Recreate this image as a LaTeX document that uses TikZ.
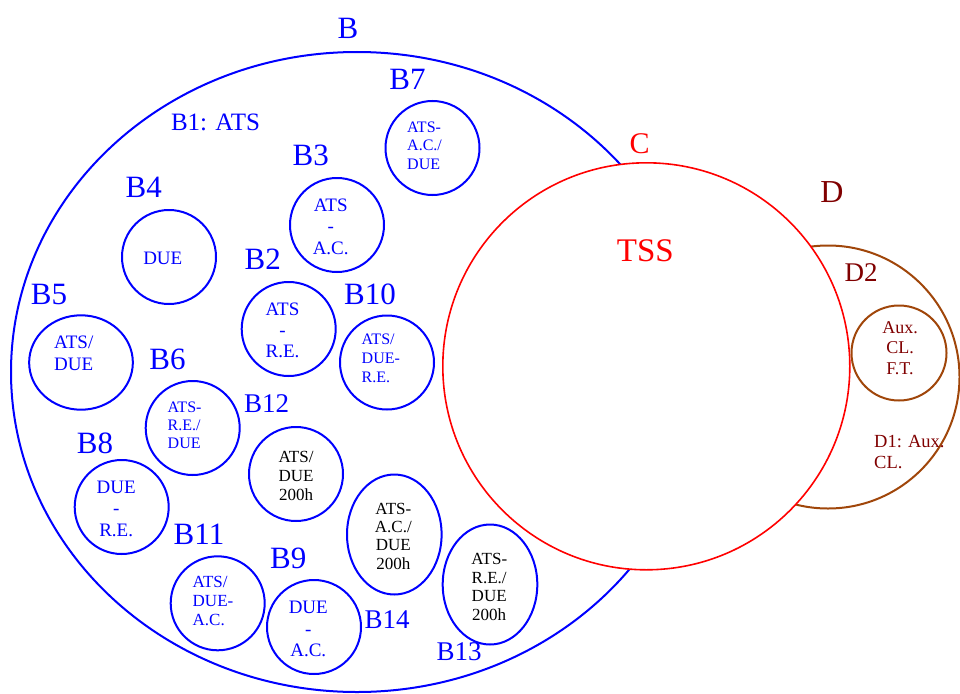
\documentclass[tikz,border=0pt]{standalone}
\usepackage{fontspec}
\setmainfont{Liberation Serif}
\usepackage{tikz}
\usetikzlibrary{shapes.geometric}
\definecolor{rust}{RGB}{160,70,10}
\definecolor{maroon}{RGB}{128,0,0}

\begin{document}
\begin{tikzpicture}[x=1pt,y=-1pt,
			ring/.style={circle,draw=blue,line width=2pt,minimum size=94pt,inner sep=0pt},
			tall ring/.style={ellipse,draw=blue,line width=2pt,minimum width=94.6pt,
				minimum height=120pt,inner sep=0pt},
			tag/.style={anchor=base,inner sep=0pt,text=blue,font=\fontsize{31}{36}\selectfont},
			mid tag/.style={tag,font=\fontsize{27}{32}\selectfont},
			big txt/.style={inner sep=0pt,text=blue,align=center,font=\fontsize{19}{21.3}\selectfont},
			small txt/.style={inner sep=0pt,text=blue,align=left,anchor=west,
				font=\fontsize{16}{18.5}\selectfont},
			black txt/.style={inner sep=0pt,align=center,font=\fontsize{17}{18.4}\selectfont}]
	\useasboundingbox (0,0) rectangle (960,693);
	
	% outer sets
	\node[ellipse,draw=blue,line width=2pt,minimum width=692pt,minimum height=640pt] (B) at (357,372) {};
	\node[circle,draw=rust,line width=2pt,minimum size=263pt] (D) at (828,377) {};
	\node[circle,draw=red,fill=white,line width=1.6pt,minimum size=407pt] (C) at (646.3,366.3) {};
	\node[circle,draw=rust,line width=2pt,minimum size=95pt] (D2) at (899,353) {};
	
	% titles
	\node[tag] (lB) at (348,38) {B};
	\node[tag,font=\fontsize{25}{30}\selectfont] (lB1) at (215.5,130) {B1: ATS};
	\node[tag,text=red,font=\fontsize{30}{36}\selectfont] (lC) at (639.5,153.5) {C};
	\node[tag,text=red,font=\fontsize{33}{38}\selectfont] (lTSS) at (645.3,261) {TSS};
	\node[tag,text=maroon,font=\fontsize{32}{38}\selectfont] (lD) at (832,202) {D};
	\node[mid tag,text=maroon] (lD2) at (861.2,281) {D2};
	\node[inner sep=0pt,text=maroon,align=left,anchor=west,
		font=\fontsize{18.5}{21}\selectfont] (tD1) at (874,452.2) {D1: Aux.\\CL.};
	\node[inner sep=0pt,text=maroon,align=center,
		font=\fontsize{18}{20.3}\selectfont] (tD2) at (900,348) {Aux.\\CL.\\F.T.};
	
	% small sets
	\node[ring] (B7) at (432.5,148) {};
	\node[ring] (B3) at (337,225) {};
	\node[ring] (B4) at (169,257) {};
	\node[ring] (B2) at (288.7,329) {};
	\node[ring] (B10) at (387,362.5) {};
	\node[ellipse,draw=blue,line width=2pt,minimum width=103.7pt,minimum height=94.4pt] (B5) at (81,362.5) {};
	\node[ring] (B6) at (192.7,428) {};
	\node[ring] (B12) at (296,474) {};
	\node[ring] (B8) at (121.7,507) {};
	\node[ring] (B11) at (217.7,603.3) {};
	\node[ring] (B9) at (314,627) {};
	\node[tall ring] (B14) at (394.3,534.5) {};
	\node[tall ring] (B13) at (490,584.5) {};
	
	\node[tag] (lB7) at (407.5,89) {B7};
	\node[tag] (lB3) at (310.8,165.7) {B3};
	\node[tag] (lB4) at (143.7,197.7) {B4};
	\node[tag] (lB2) at (262.8,269.3) {B2};
	\node[tag] (lB5) at (49,304) {B5};
	\node[tag] (lB10) at (370,304) {B10};
	\node[tag] (lB6) at (167.5,369) {B6};
	\node[mid tag] (lB12) at (266.7,412.3) {B12};
	\node[tag] (lB8) at (95,453.3) {B8};
	\node[tag] (lB11) at (199,544) {B11};
	\node[tag] (lB9) at (288.3,568.3) {B9};
	\node[mid tag] (lB14) at (387,628.3) {B14};
	\node[mid tag] (lB13) at (459,660) {B13};
	
	% contents
	\node[small txt] (tB7) at (407,145.5) {ATS-\\A.C./\\DUE};
	\node[big txt] (tB3) at (330.7,226.7) {ATS\\-\\A.C.};
	\node[big txt,anchor=base] (tB4) at (162.8,264.3) {DUE};
	\node[big txt] (tB2) at (282.5,330.3) {ATS\\-\\R.E.};
	\node[small txt,font=\fontsize{16}{19}\selectfont] (tB10) at (361.5,358.8) {ATS/\\DUE-\\R.E.};
	\node[big txt,align=left,anchor=west,font=\fontsize{19}{21.2}\selectfont] (tB5) at (54,353.3) {ATS/\\DUE};
	\node[small txt,font=\fontsize{16}{18.3}\selectfont] (tB6) at (167.5,425.3) {ATS-\\R.E./\\DUE};
	\node[black txt,font=\fontsize{17}{19}\selectfont] (tB12) at (296,475.7) {ATS/\\DUE\\200h};
	\node[big txt] (tB8) at (116.2,508.7) {DUE\\-\\R.E.};
	\node[small txt,font=\fontsize{17}{19}\selectfont] (tB11) at (192.5,600.8) {ATS/\\DUE-\\A.C.};
	\node[big txt] (tB9) at (308.3,629.2) {DUE\\-\\A.C.};
	\node[black txt] (tB14) at (393.3,536.2) {ATS-\\A.C./\\DUE\\200h};
	\node[black txt,font=\fontsize{17}{18.6}\selectfont] (tB13) at (489.2,587) {ATS-\\R.E./\\DUE\\200h};
\end{tikzpicture}
\end{document}
